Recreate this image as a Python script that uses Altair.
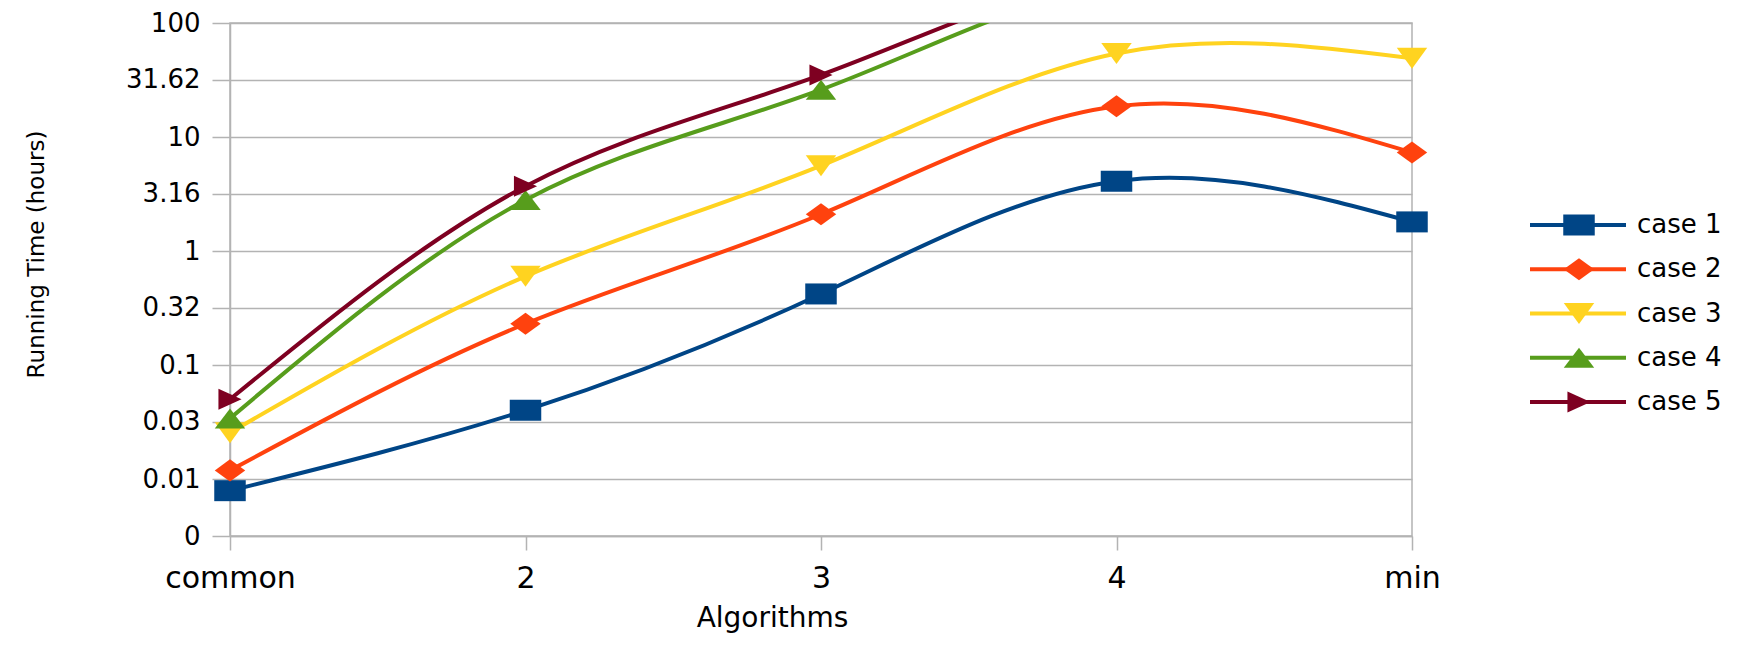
import altair as alt
import pandas as pd

# ---------------- data ----------------
algorithms = ["common", "2", "3", "4", "min"]
cases = ["case 1", "case 2", "case 3", "case 4", "case 5"]
case1 = [0.0079, 0.040, 0.42, 4.1, 1.8]
case2 = [0.0119, 0.23, 2.1, 18.6, 7.3]
case3 = [0.0255, 0.60, 5.6, 54.0, 49.0]
case4 = [0.034, 2.8, 26.0, 230.0, 200.0]
case5 = [0.050, 3.7, 35.0, 280.0, 250.0]

y_tick_values = [0.0031623, 0.01, 0.031623, 0.1, 0.31623, 1, 3.1623, 10, 31.623, 100]
y_tick_labels = ["0", "0.01", "0.03", "0.1", "0.32", "1", "3.16", "10", "31.62", "100"]

colors = ["#004586", "#ff420e", "#ffd320", "#579d1c", "#7e0021"]
shapes = [
    "M-1.5,-1L1.5,-1L1.5,1L-1.5,1Z",          # square (stretched)
    "M-1.45,0L0,-1.05L1.45,0L0,1.05Z",        # diamond
    "M-1.45,-1L1.45,-1L0,1Z",                 # triangle down
    "M-1.45,0.95L1.45,0.95L0,-0.95Z",         # triangle up
    "M-1.1,-1L1.1,0L-1.1,1Z",                 # triangle right
]

series = [case1, case2, case3, case4, case5]
rows = []
for c, vals in zip(cases, series):
    for a, v in zip(algorithms, vals):
        rows.append({"case": c, "alg": a, "hours": v})
df = pd.DataFrame(rows)
legend_df = pd.DataFrame({"case": cases})

FONT = "DejaVu Sans"
GRID = "#b3b3b3"

label_list = "[" + ",".join("'%s'" % s for s in y_tick_labels) + "]"
label_expr = label_list + "[round(log(datum.value) / LN10 * 2) + 5]"

color_enc = alt.Color("case:N", scale=alt.Scale(domain=cases, range=colors), legend=None)
shape_enc = alt.Shape("case:N", scale=alt.Scale(domain=cases, range=shapes), legend=None)

x_enc = alt.X(
    "alg:N",
    sort=algorithms,
    scale=alt.Scale(type="point", padding=0),
    axis=alt.Axis(
        title="Algorithms",
        labelAngle=0,
        labelFontSize=30,
        labelFont=FONT,
        labelColor="black",
        labelBaseline="alphabetic",
        labelPadding=37,
        tickSize=14,
        grid=False,
        titleFontSize=28,
        titleFont=FONT,
        titleFontWeight="normal",
        titleColor="black",
        titleX=542,
        titleY=90,
        titleBaseline="alphabetic",
        titleAlign="center",
    ),
)
y_enc = alt.Y(
    "hours:Q",
    scale=alt.Scale(type="log", domain=[0.0031623, 100], nice=False, zero=False),
    axis=alt.Axis(
        title="Running Time (hours)",
        values=y_tick_values,
        labelExpr=label_expr,
        labelFontSize=26,
        labelFont=FONT,
        labelColor="black",
        labelPadding=12,
        tickSize=18,
        grid=True,
        titleFontSize=23,
        titleFont=FONT,
        titleFontWeight="normal",
        titleColor="black",
        titleX=-194,
        titleY=231,
        titleBaseline="middle",
        titleAlign="center",
        titleAngle=270,
    ),
)

base = alt.Chart(df)
lines = base.mark_line(interpolate="natural", strokeWidth=4, clip=True).encode(
    x=x_enc, y=y_enc, color=color_enc
)
points = base.transform_filter("datum.hours <= 100").mark_point(
    filled=True, size=441, opacity=1
).encode(x=x_enc, y=y_enc, color=color_enc, shape=shape_enc)

main = alt.layer(lines, points)

leg_y = alt.Y(
    "case:N",
    scale=alt.Scale(type="point", domain=cases, range=[202, 379], padding=0),
    axis=None,
)
leg_base = alt.Chart(legend_df)
leg_rule = leg_base.mark_rule(strokeWidth=4).encode(
    x=alt.value(1300), x2=alt.value(1396), y=leg_y, color=color_enc
)
leg_pts = leg_base.mark_point(filled=True, size=441, opacity=1).encode(
    x=alt.value(1349), y=leg_y, color=color_enc, shape=shape_enc
)
leg_text = leg_base.mark_text(
    align="left", baseline="middle", fontSize=26, font=FONT, color="black"
).encode(x=alt.value(1407), y=leg_y, text="case:N")
legend = alt.layer(leg_rule, leg_pts, leg_text)

chart = (
    alt.layer(main, legend)
    .resolve_scale(y="independent")
    .properties(
        width=1182,
        height=513,
        autosize=alt.AutoSizeParams(type="none"),
        padding={"left": 222, "top": 15, "right": 335, "bottom": 98},
    )
    .configure(font=FONT)
    .configure_view(stroke=GRID, strokeWidth=1.5)
    .configure_axis(
        gridColor=GRID,
        gridWidth=1.5,
        tickColor=GRID,
        tickWidth=1.5,
        domainColor=GRID,
        domainWidth=1.5,
    )
)

chart.save("out.html", embed_options={"renderer": "svg", "actions": False})
